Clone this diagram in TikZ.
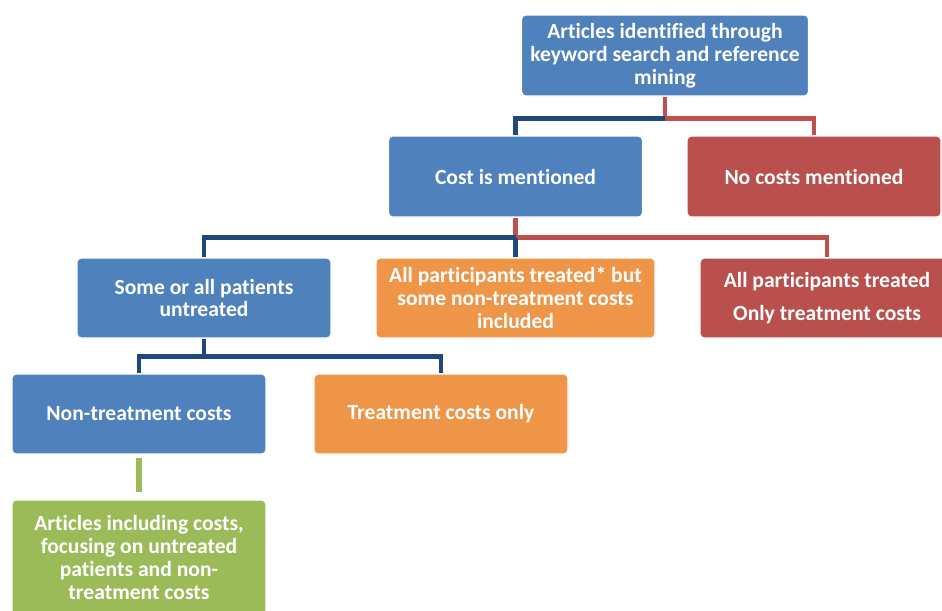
\documentclass[tikz,border=0pt]{standalone}
\usepackage{fontspec}
\setmainfont[Ligatures=CommonOff]{Carlito}
\usepackage{tikz}
\usetikzlibrary{positioning}

\definecolor{boxblue}{HTML}{4F81BD}
\definecolor{boxred}{HTML}{B9504D}
\definecolor{boxorange}{HTML}{EE9548}
\definecolor{boxgreen}{HTML}{9BBB59}
\definecolor{lineblue}{HTML}{1F497D}
\definecolor{linered}{HTML}{C0504D}

\tikzset{
  stagebox/.style={rectangle, rounded corners=2.5pt, draw=white, line width=0.6pt,
    text=white, align=center, font=\fontsize{12.3}{13}\selectfont\bfseries,
    minimum width=254*0.02cm, minimum height=80*0.02cm, inner sep=2pt},
  bluebox/.style={stagebox, fill=boxblue},
  redbox/.style={stagebox, fill=boxred},
  orangebox/.style={stagebox, fill=boxorange},
  greenbox/.style={stagebox, fill=boxgreen},
  blueline/.style={draw=lineblue, line width=2.8pt},
  redline/.style={draw=linered, line width=2.8pt},
  greenline/.style={draw=boxgreen, line width=3.4pt}
}

\begin{document}
\begin{tikzpicture}[x=0.02cm, y=-0.02cm]
    \useasboundingbox (0,0) rectangle (942,610);

    % Nodes
    \node[bluebox, minimum width=287*0.02cm, minimum height=81*0.02cm] (search) at (665,55.5)
      {Articles identified through\\keyword search and reference\\mining};
    \node[bluebox, minimum height=81*0.02cm] (costmention) at (515.5,176.5) {Cost is mentioned};
    \node[redbox, minimum height=81*0.02cm] (nocost) at (814,176.5) {No costs mentioned};

    \node[bluebox] (untreated) at (204,298) {Some or all patients\\untreated};
    \node[orangebox, minimum width=279*0.02cm] (alltreated) at (515.5,298)
      {All participants treated* but\\some non-treatment costs\\included};
    \node[redbox] (onlytreat) at (827,298) {All participants treated\\[6pt]Only treatment costs};

    \node[bluebox] (nontreat) at (139,414) {Non-treatment costs};
    \node[orangebox] (treatonly) at (441,414) {Treatment costs only};

    \node[greenbox, minimum height=115*0.02cm, text depth=0pt] (focus) at (139,557.5)
      {Articles including costs,\\focusing on untreated\\patients and non-\\treatment costs};

    % Junctions
    \path (search.south) ++(0,22) coordinate (j1);
    \path (costmention.south) ++(0,20) coordinate (j2);
    \path (untreated.south) ++(0,18) coordinate (j3);

    % Connectors
    \draw[redline] (search.south) -- (j1) -| (nocost.north);
    \draw[blueline] (j1) -| (costmention.north);
    \draw[redline] (costmention.south) -- (j2) -| (onlytreat.north);
    \draw[blueline] (j2) -| (untreated.north);
    \draw[blueline] (j2) -- (alltreated.north);
    \draw[blueline] (untreated.south) -- (j3) -| (nontreat.north);
    \draw[blueline] (j3) -| (treatonly.north);
    \draw[greenline] ([yshift=-3*0.02cm]nontreat.south) -- ([yshift=7*0.02cm]focus.north);
  \end{tikzpicture}
\end{document}
